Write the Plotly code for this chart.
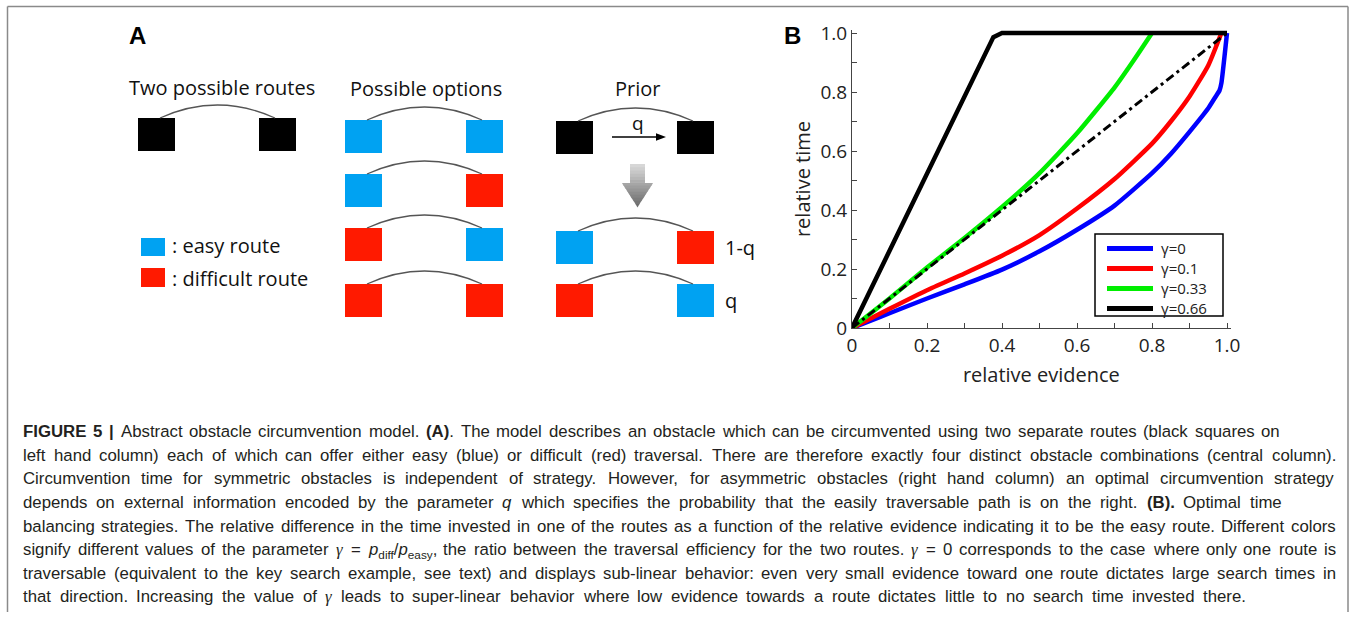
import plotly.graph_objects as go

W, H = 1356, 625

# ---------------- Panel B data ----------------
evid_g0 = [0, 0.05, 0.1, 0.2, 0.3, 0.4, 0.5, 0.6, 0.7, 0.8, 0.85, 0.9, 0.95, 0.97, 0.98, 0.985, 1.0]
time_g0 = [0, 0.025, 0.05, 0.10, 0.148, 0.198, 0.26, 0.333, 0.415, 0.525, 0.59, 0.665, 0.745, 0.785, 0.805, 0.83, 1.0]
evid_g01 = [0, 0.1, 0.2, 0.3, 0.4, 0.5, 0.6, 0.7, 0.8, 0.85, 0.9, 0.95, 0.985]
time_g01 = [0, 0.065, 0.128, 0.185, 0.245, 0.315, 0.405, 0.505, 0.625, 0.70, 0.785, 0.89, 1.0]
evid_g033 = [0, 0.1, 0.2, 0.3, 0.4, 0.5, 0.6, 0.7, 0.75, 0.8]
time_g033 = [0, 0.1, 0.205, 0.305, 0.41, 0.525, 0.66, 0.815, 0.905, 1.0]
evid_g066 = [0, 0.377, 0.40, 1.0]
time_g066 = [0, 0.986, 1.0, 1.0]
evid_linear = [0, 1]
time_linear = [0, 1]

series_names = ["γ=0", "γ=0.1", "γ=0.33", "γ=0.66"]
series_colors = ["#0000ff", "#ff0000", "#00ee00", "#000000"]

tick_vals = [0, 0.2, 0.4, 0.6, 0.8, 1.0]
tick_text = ["0", "0.2", "0.4", "0.6", "0.8", "1.0"]
minor_vals = [0.1, 0.3, 0.5, 0.7, 0.9]

# ---------------- Panel A content ----------------
route_colors = {"easy": "#00a2f2", "difficult": "#ff1a00", "unknown": "#000000"}
possible_options = [("easy", "easy"), ("easy", "difficult"), ("difficult", "easy"), ("difficult", "difficult")]
prior_outcomes = [("easy", "difficult"), ("difficult", "easy")]
prior_probs = ["1-q", "q"]

# caption (γ is swapped for a serif italic span when drawn)
caption_lines = [
    "<b>FIGURE</b> <b>5</b> <b>|</b> Abstract obstacle circumvention model. <b>(A)</b>. The model describes an obstacle which can be circumvented using two separate routes (black squares on",
    "left hand column) each of which can offer either easy (blue) or difficult (red) traversal. There are therefore exactly four distinct obstacle combinations (central column).",
    "Circumvention time for symmetric obstacles is independent of strategy. However, for asymmetric obstacles (right hand column) an optimal circumvention strategy",
    "depends on external information encoded by the parameter <i>q</i> which specifies the probability that the easily traversable path is on the right. <b>(B).</b> Optimal time",
    "balancing strategies. The relative difference in the time invested in one of the routes as a function of the relative evidence indicating it to be the easy route. Different colors",
    "signify different values of the parameter γ = <i>p</i><sub>diff</sub>/<i>p</i><sub>easy</sub>, the ratio between the traversal efficiency for the two routes. γ = 0 corresponds to the case where only one route is",
    "traversable (equivalent to the key search example, see text) and displays sub-linear behavior: even very small evidence toward one route dictates large search times in",
    "that direction. Increasing the value of γ leads to super-linear behavior where low evidence towards a route dictates little to no search time invested there.",
]
caption_right = [1280, 1336, 1334, 1282, 1336, 1336, 1336, 1246]

GAMMA = '<span style="font-family:Liberation Serif"><i>γ</i></span>'

# Liberation Sans (Arial/Helvetica metrics), 1/1000 em, used to justify caption lines
REG = {" ": 278, "(": 333, ")": 333, ",": 278, "-": 333, ".": 278, "/": 278, ":": 278, "=": 584, "|": 260,
       "0": 556, "1": 556, "2": 556, "3": 556, "4": 556, "5": 556, "6": 556, "7": 556, "8": 556, "9": 556,
       "A": 667, "B": 667, "C": 722, "D": 722, "E": 667, "F": 611, "G": 778, "H": 722, "I": 278, "J": 500,
       "K": 667, "L": 556, "M": 833, "N": 722, "O": 778, "P": 667, "Q": 778, "R": 722, "S": 667, "T": 611,
       "U": 722, "V": 667, "W": 944, "X": 667, "Y": 667, "Z": 611,
       "a": 556, "b": 556, "c": 500, "d": 556, "e": 556, "f": 278, "g": 556, "h": 556, "i": 222, "j": 222,
       "k": 500, "l": 222, "m": 833, "n": 556, "o": 556, "p": 556, "q": 556, "r": 333, "s": 500, "t": 278,
       "u": 556, "v": 500, "w": 722, "x": 500, "y": 500, "z": 500}
BOLD = {"(": 333, ")": 333, ".": 278, "|": 280, "5": 556, "A": 722, "B": 722, "E": 667, "F": 611, "G": 778,
        "I": 278, "R": 722, "U": 722}


def tok_width(tok, size):
    w, bold, sub, i = 0.0, False, False, 0
    while i < len(tok):
        c = tok[i]
        if c == "<":
            j = tok.index(">", i)
            tag = tok[i + 1:j]
            if tag == "b":
                bold = True
            elif tag == "/b":
                bold = False
            elif tag == "sub":
                sub = True
            elif tag == "/sub":
                sub = False
            i = j + 1
            continue
        if c == "γ":
            cw = 450
        else:
            cw = (BOLD if bold else REG).get(c, 556)
        w += cw * (0.7 if sub else 1.0)
        i += 1
    return w * size / 1000.0


def px(x):
    return x / W


def py(y):
    return 1 - y / H


fig = go.Figure()

curves = [(evid_g0, time_g0), (evid_g01, time_g01), (evid_g033, time_g033)]
for (ex, ty), name, col in zip(curves, series_names[:3], series_colors[:3]):
    fig.add_trace(go.Scatter(x=ex, y=ty, mode="lines", name=name, showlegend=False,
                             line=dict(color=col, width=4.5, shape="spline", smoothing=0.5)))
fig.add_trace(go.Scatter(x=evid_linear, y=time_linear, mode="lines", showlegend=False,
                         line=dict(color="black", width=3, dash="9px,4px,3px,4px")))
fig.add_trace(go.Scatter(x=evid_g066, y=time_g066, mode="lines", name=series_names[3], showlegend=False,
                         line=dict(color=series_colors[3], width=4.5)))

shapes = []
annotations = []

# frame
frame_col = "#8a8a8a"
shapes.append(dict(type="line", xref="paper", yref="paper", x0=px(7.5), x1=px(1348), y0=py(6.5), y1=py(6.5),
                   line=dict(color=frame_col, width=1.5)))
shapes.append(dict(type="line", xref="paper", yref="paper", x0=px(7.5), x1=px(7.5), y0=py(6.5), y1=py(612),
                   line=dict(color=frame_col, width=1.5)))
shapes.append(dict(type="line", xref="paper", yref="paper", x0=px(1348), x1=px(1348), y0=py(6.5), y1=py(612),
                   line=dict(color=frame_col, width=1.5)))

SQW, SQH = 37, 33


def square(x0, y0, color):
    shapes.append(dict(type="rect", xref="paper", yref="paper", x0=px(x0), x1=px(x0 + SQW),
                       y0=py(y0 + SQH), y1=py(y0), fillcolor=color, line=dict(width=0), layer="above"))


def arc(xl, xr, ytop, h=13):
    x0 = xl + 22
    x1 = xr + 16
    xm = (x0 + x1) / 2
    path = f"M {px(x0)},{py(ytop)} Q {px(xm)},{py(ytop - 2 * h)} {px(x1)},{py(ytop)}"
    shapes.append(dict(type="path", xref="paper", yref="paper", path=path,
                       line=dict(color="#555555", width=1.3), layer="above"))


def label(x, y, text, size=20, anchor="center", family="Open Sans", color="#111111", yanchor="middle"):
    annotations.append(dict(x=px(x), y=py(y), xref="paper", yref="paper", text=text, showarrow=False,
                            xanchor=anchor, yanchor=yanchor, borderpad=0, borderwidth=0,
                            font=dict(size=size, family=family, color=color)))


label(137, 36, "<b>A</b>", size=24, family="Liberation Sans, Arial", color="#000000")
label(792, 35, "<b>B</b>", size=24, family="Liberation Sans, Arial", color="#000000")

# column 1
label(222, 87, "Two possible routes")
LX1, RX1 = 138, 259
square(LX1, 118, route_colors["unknown"])
square(RX1, 118, route_colors["unknown"])
arc(LX1, RX1, 118)

shapes.append(dict(type="rect", xref="paper", yref="paper", x0=px(141), x1=px(165), y0=py(256), y1=py(238),
                   fillcolor=route_colors["easy"], line=dict(width=0)))
shapes.append(dict(type="rect", xref="paper", yref="paper", x0=px(141), x1=px(165), y0=py(287), y1=py(268),
                   fillcolor=route_colors["difficult"], line=dict(width=0)))
label(172, 245, ": easy route", anchor="left")
label(172, 278, ": difficult route", anchor="left")

# column 2
label(426, 88, "Possible options")
LX2, RX2 = 345, 466
rows2 = [120, 174, 228, 284]
for (l, r), yt in zip(possible_options, rows2):
    square(LX2, yt, route_colors[l])
    square(RX2, yt, route_colors[r])
    arc(LX2, RX2, yt)

# column 3
label(637, 89, "Prior")
LX3, RX3 = 556, 677
square(LX3, 121, route_colors["unknown"])
square(RX3, 121, route_colors["unknown"])
arc(LX3, RX3, 121)
label(638, 123, "q", size=19)
shapes.append(dict(type="line", xref="paper", yref="paper", x0=px(612), x1=px(658), y0=py(137), y1=py(137),
                   line=dict(color="black", width=1.6)))
shapes.append(dict(type="path", xref="paper", yref="paper",
                   path=f"M {px(656)},{py(133.2)} L {px(666)},{py(137)} L {px(656)},{py(140.8)} Z",
                   fillcolor="black", line=dict(width=0)))

top, mid, tip = 164, 183, 207
cx = 637.5
nsl = 14


def hw(y):
    if y <= mid:
        return 7.5
    return 15.5 * (tip - y) / (tip - mid)


for i in range(nsl):
    ya = top + (tip - top) * i / nsl
    yb = top + (tip - top) * (i + 1) / nsl
    g = int(220 - (220 - 105) * (i + 0.5) / nsl)
    col = f"rgb({g},{g},{g})"
    if yb <= mid:
        pts = [(cx - 7.5, ya), (cx + 7.5, ya), (cx + 7.5, yb + 0.4), (cx - 7.5, yb + 0.4)]
    elif ya >= mid:
        pts = [(cx - hw(ya), ya), (cx + hw(ya), ya), (cx + hw(yb), yb + 0.4), (cx - hw(yb), yb + 0.4)]
    else:
        pts = [(cx - 7.5, ya), (cx + 7.5, ya), (cx + 7.5, mid), (cx + 15.5, mid),
               (cx + hw(yb), yb + 0.4), (cx - hw(yb), yb + 0.4), (cx - 15.5, mid), (cx - 7.5, mid)]
    path = "M " + " L ".join(f"{px(a)},{py(b)}" for a, b in pts) + " Z"
    shapes.append(dict(type="path", xref="paper", yref="paper", path=path, fillcolor=col,
                       line=dict(width=0)))

rows3 = [231, 284]
for (l, r), yt, pr in zip(prior_outcomes, rows3, prior_probs):
    square(LX3, yt, route_colors[l])
    square(RX3, yt, route_colors[r])
    arc(LX3, RX3, yt)
    label(725, yt + 16, pr, size=20, anchor="left")

# boxed legend of panel B
shapes.append(dict(type="rect", xref="paper", yref="paper", x0=px(1095), x1=px(1223), y0=py(316), y1=py(234),
                   fillcolor="white", line=dict(color="black", width=1.5), layer="above"))
leg_rows = [248.5, 268.5, 288.5, 308.5]
for name, col, yl in zip(series_names, series_colors, leg_rows):
    shapes.append(dict(type="line", xref="paper", yref="paper", x0=px(1107), x1=px(1153), y0=py(yl), y1=py(yl),
                       line=dict(color=col, width=5), layer="above"))
    label(1161, yl - 0.5, name, size=15, anchor="left", color="#222222")

# caption, justified word by word
CAP_SIZE = 16.8
CAP_LEFT = 23
for i, (line, right) in enumerate(zip(caption_lines, caption_right)):
    yc = 432 + 23.57 * i
    words = line.split(" ")
    widths = [tok_width(w, CAP_SIZE) for w in words]
    gap = (right - CAP_LEFT - sum(widths)) / (len(words) - 1)
    xpos = CAP_LEFT
    for w, ww in zip(words, widths):
        label(xpos, yc - 0.575 * CAP_SIZE, w.replace("γ", GAMMA), size=CAP_SIZE, anchor="left",
              family="Liberation Sans, Arial", color="#231f20", yanchor="top")
        xpos += ww + gap

# ---------------- axes ----------------
x_left, x_one = 852, 1227
y_bot, y_one = 328, 33
xr = [0, 1.01]
yr = [0, 1.01]
x_right = x_left + (x_one - x_left) * xr[1]
y_top = y_bot - (y_bot - y_one) * yr[1]

axis_common = dict(showline=True, linecolor="#444444", linewidth=1.2, ticks="inside", ticklen=5,
                   tickcolor="#444444", tickwidth=1, showgrid=False, zeroline=False,
                   tickvals=tick_vals, ticktext=tick_text,
                   minor=dict(tickvals=minor_vals, ticks="inside", ticklen=5,
                              tickcolor="#444444", showgrid=False),
                   tickfont=dict(size=19, family="Open Sans", color="#222222"))

fig.update_layout(
    width=W, height=H, margin=dict(l=0, r=0, t=0, b=0, autoexpand=False),
    paper_bgcolor="white", plot_bgcolor="white", showlegend=False,
    xaxis=dict(domain=[px(x_left), px(x_right)], range=xr,
               title=dict(text="relative evidence", font=dict(size=20, family="Open Sans", color="#222222"),
                          standoff=11),
               **axis_common),
    yaxis=dict(domain=[py(y_bot), py(y_top)], range=yr,
               title=dict(text="relative time", font=dict(size=20, family="Open Sans", color="#222222"),
                          standoff=4),
               **axis_common),
    shapes=shapes, annotations=annotations,
)

fig.write_html("out.html", config={"displayModeBar": False},
               post_script="document.body.style.margin='0';document.documentElement.style.overflow='hidden';")
